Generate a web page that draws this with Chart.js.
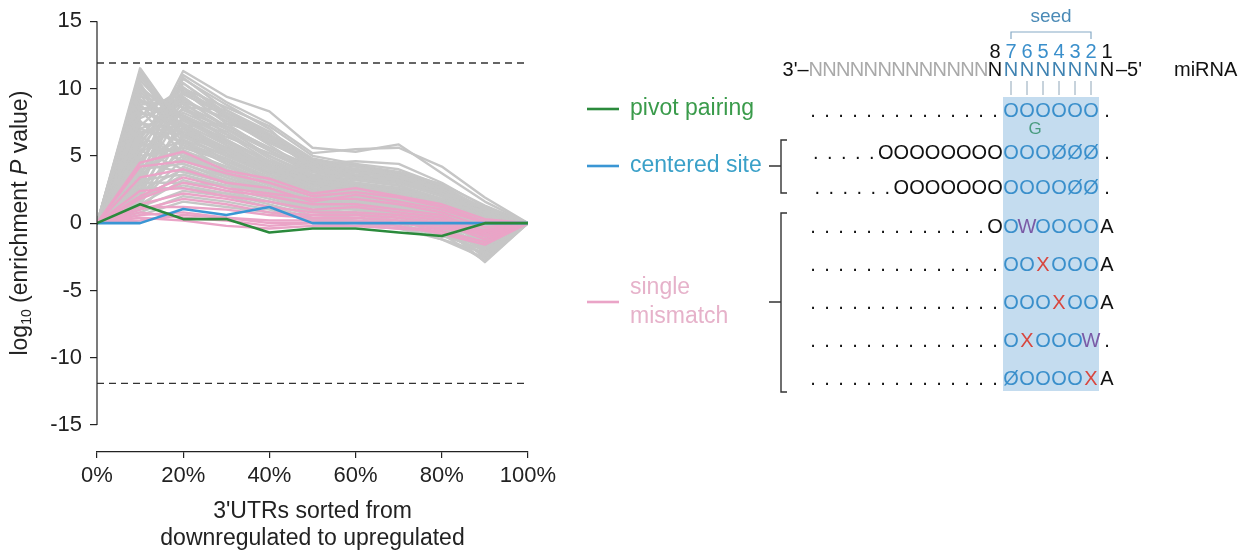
<!DOCTYPE html>
<html>
<head>
<meta charset="utf-8">
<title>Seed pairing enrichment</title>
<script src="https://cdn.jsdelivr.net/npm/chart.js@4/dist/chart.umd.min.js"></script>
<style>
  html, body { margin: 0; padding: 0; background: #fff; }
  #wrap { position: relative; width: 1247px; height: 554px; }
</style>
</head>
<body>
<div id="wrap"><canvas id="chart" width="1247" height="554"></canvas></div>
<script>
// ── Data ──────────────────────────────────────────────────────────────────────
const xPct = [0, 10, 20, 30, 40, 50, 60, 70, 80, 90, 100];
const xTicks = [0, 20, 40, 60, 80, 100];
const yTicks = [-15, -10, -5, 0, 5, 10, 15];
const threshold = 11.9;

const pivotPairing = [0, 1.4, 0.3, 0.3, -0.7, -0.4, -0.4, -0.7, -0.95, 0, 0];
const centeredSite = [0, 0, 1.05, 0.6, 1.2, 0, 0, 0, 0, 0, 0];

const singleMismatch = [
  [0, 4.5, 5.3, 3.9, 3.3, 2.2, 2.6, 2.0, 1.4, 0.3, 0],
  [0, 4.2, 4.6, 3.7, 3.0, 2.0, 2.3, 1.9, 1.2, 0.1, 0],
  [0, 3.4, 4.0, 3.0, 2.6, 1.6, 2.1, 1.6, 1.0, 0.0, 0],
  [0, 2.0, 3.4, 2.6, 2.2, 1.8, 1.8, 1.4, 0.8, -0.3, 0],
  [0, 1.8, 3.0, 2.4, 2.0, 1.4, 1.4, 1.0, 0.6, -0.6, 0],
  [0, 2.4, 2.6, 2.0, 1.6, 1.0, 1.2, 0.8, 0.4, -0.8, 0],
  [0, 1.4, 2.2, 1.8, 1.2, 0.8, 0.8, 0.6, 0.2, -1.0, 0],
  [0, 1.0, 1.8, 1.4, 0.8, 0.6, 0.6, 0.4, 0.0, -1.2, 0],
  [0, 0.6, 0.8, 0.4, 0.2, 0.2, 0.2, 0.0, -0.4, -0.8, 0],
  [0, 0.4, 0.2, -0.2, -0.4, -0.2, -0.2, -0.4, -0.6, -1.4, 0],
  [0, 0.8, 0.4, 0.2, -0.2, 0.0, 0.0, -0.2, -0.8, -1.6, 0],
  [0, 1.2, 1.2, 1.0, 0.6, 0.4, 0.4, 0.2, -0.2, -0.6, 0],
  [0, 0.2, 0.6, 0.4, 0.0, 0.0, -0.2, -0.4, -0.4, -0.5, 0],
];

// all other site types, drawn in grey behind the highlighted ones
const otherSites = [
  [0, 11.5, 7.0, 5.5, 4.0, 3.2, 2.8, 2.4, 1.5, 0.4, 0],
  [0, 11.2, 6.2, 5.0, 3.6, 2.6, 2.2, 2.0, 1.2, -0.2, 0],
  [0, 10.8, 7.6, 6.0, 4.6, 3.5, 3.0, 2.6, 1.6, 0.6, 0],
  [0, 10.4, 5.4, 4.2, 3.0, 2.0, 1.8, 1.5, 0.6, -0.8, 0],
  [0, 10.0, 8.0, 6.6, 5.0, 3.6, 3.4, 3.0, 2.0, 0.8, 0],
  [0, 9.6, 4.8, 3.8, 2.6, 1.6, 1.4, 1.0, 0.2, -1.2, 0],
  [0, 9.2, 6.8, 5.2, 3.8, 2.8, 2.4, 2.2, 1.0, -0.4, 0],
  [0, 8.8, 5.8, 4.6, 3.2, 2.2, 2.0, 1.8, 0.8, -0.6, 0],
  [0, 8.2, 7.4, 5.8, 4.2, 3.0, 2.6, 2.4, 1.4, 0.2, 0],
  [0, 7.6, 4.4, 3.4, 2.2, 1.2, 1.0, 0.6, -0.2, -1.6, 0],
  [0, 7.0, 6.0, 4.8, 3.4, 2.4, 2.2, 1.6, 0.8, -0.6, 0],
  [0, 6.4, 5.0, 4.0, 2.8, 1.8, 1.6, 1.2, 0.4, -1.0, 0],
  [0, 5.0, 11.3, 9.4, 8.3, 5.6, 5.3, 5.85, 3.7, 1.6, 0],
  [0, 4.2, 11.0, 9.0, 7.4, 5.2, 5.5, 5.6, 4.2, 1.9, 0],
  [0, 6.2, 10.7, 8.8, 7.0, 4.1, 3.3, 2.8, 1.8, 0.6, 0],
  [0, 3.4, 10.4, 8.2, 6.4, 4.0, 3.6, 3.2, 2.2, 0.8, 0],
  [0, 7.2, 10.1, 7.8, 5.8, 3.8, 3.4, 3.0, 2.0, 0.4, 0],
  [0, 2.8, 9.8, 7.4, 5.4, 3.6, 3.2, 2.8, 1.6, 0.2, 0],
  [0, 5.6, 9.4, 7.0, 5.0, 3.4, 3.0, 2.6, 1.8, 0.6, 0],
  [0, 4.6, 9.0, 6.6, 4.6, 3.2, 2.8, 2.4, 1.4, 0.0, 0],
  [0, 3.0, 8.6, 6.2, 4.4, 3.0, 2.6, 2.2, 1.2, -0.4, 0],
  [0, 6.6, 8.2, 6.8, 4.8, 3.3, 2.9, 2.5, 1.5, 0.1, 0],
  [0, 2.2, 7.8, 5.8, 4.0, 2.8, 2.4, 2.0, 1.0, -0.8, 0],
  [0, 5.2, 7.4, 5.4, 3.8, 2.6, 2.3, 1.9, 0.9, -0.3, 0],
  [0, 3.8, 7.0, 5.0, 3.6, 2.5, 2.1, 1.7, 0.7, -1.4, 0],
  [0, 1.8, 6.6, 4.6, 3.2, 2.2, 1.9, 1.5, 0.5, -1.8, 0],
  [0, 8.0, 10.0, 8.6, 7.2, 5.0, 4.4, 4.0, 2.8, 1.0, 0],
  [0, 6.0, 9.6, 8.0, 6.2, 4.6, 4.0, 3.6, 2.4, 0.8, 0],
  [0, 4.8, 6.2, 4.4, 3.0, 2.0, 1.8, 1.4, 0.4, -1.0, 0],
  [0, 3.6, 5.8, 4.0, 2.8, 1.8, 1.6, 1.2, 0.2, -2.2, 0],
  [0, 2.6, 5.4, 3.8, 2.6, 1.6, 1.4, 1.0, 0.0, -2.6, 0],
  [0, 5.8, 5.2, 3.6, 2.4, 1.4, 1.2, 0.8, -0.2, -2.9, 0],
  [0, 1.6, 4.8, 3.4, 2.4, 1.5, 1.3, 0.9, 0.0, -1.2, 0],
  [0, 4.0, 4.4, 3.2, 2.0, 1.2, 1.0, 0.6, -0.4, -2.0, 0],
  [0, 2.4, 4.0, 3.0, 2.0, 1.0, 0.8, 0.6, -0.6, -2.4, 0],
  [0, 3.2, 3.6, 2.6, 1.8, 1.0, 0.8, 0.4, -0.4, -1.6, 0],
  [0, 1.4, 3.2, 2.4, 1.6, 0.8, 0.6, 0.2, -0.8, -2.8, 0],
  [0, 2.0, 2.8, 2.2, 1.4, 0.6, 0.4, 0.0, -1.0, -1.4, 0],
  [0, 1.2, 2.4, 2.0, 1.2, 0.4, 0.2, -0.2, -1.2, -2.2, 0],
  [0, 0.8, 2.0, 1.6, 1.0, 0.2, 0.0, -0.4, -1.2, -2.6, 0],
  [0, 3.0, 3.0, 2.8, 2.2, 1.4, 1.2, 0.8, -0.2, -1.8, 0],
  [0, 4.4, 3.8, 3.0, 2.4, 1.6, 1.6, 1.2, 0.2, -1.0, 0],
  [0, 7.8, 9.2, 7.6, 6.0, 4.4, 4.6, 4.4, 3.0, 1.2, 0],
  [0, 9.0, 8.8, 7.2, 5.6, 4.0, 3.8, 3.4, 2.6, 0.9, 0],
  [0, 10.6, 7.2, 7.4, 6.6, 4.2, 3.6, 3.8, 2.9, 1.3, 0],
  [0, 8.6, 8.0, 6.4, 5.2, 3.8, 3.6, 3.2, 2.2, 0.6, 0],
  [0, 6.8, 6.6, 5.6, 4.4, 3.0, 2.8, 2.6, 1.6, 0.3, 0],
  [0, 5.4, 7.8, 6.0, 4.6, 3.4, 3.2, 2.8, 1.8, 0.5, 0],
  [0, 9.4, 8.6, 8.4, 6.8, 4.8, 4.2, 3.6, 2.6, 1.1, 0],
  [0, 8.4, 9.6, 8.0, 6.0, 4.5, 4.0, 3.4, 2.4, 0.9, 0],
  [0, 11.0, 6.6, 5.2, 3.8, 2.8, 2.4, 2.2, 1.2, 0.0, 0],
  [0, 10.2, 7.2, 5.6, 4.2, 3.0, 2.6, 2.3, 1.3, 0.2, 0],
  [0, 9.8, 6.0, 4.8, 3.4, 2.4, 2.0, 1.7, 0.8, -0.5, 0],
  [0, 9.0, 7.8, 6.2, 4.6, 3.2, 2.9, 2.6, 1.7, 0.4, 0],
  [0, 8.4, 5.2, 4.2, 3.0, 2.0, 1.8, 1.4, 0.5, -0.9, 0],
  [0, 7.4, 7.0, 5.6, 4.0, 2.9, 2.6, 2.2, 1.3, 0.0, 0],
  [0, 6.0, 4.6, 3.6, 2.6, 1.6, 1.4, 1.0, 0.1, -1.3, 0],
  [0, 5.4, 4.0, 3.2, 2.2, 1.3, 1.1, 0.7, -0.2, -1.7, 0],
  [0, 4.6, 8.6, 7.0, 5.4, 3.8, 3.4, 3.0, 2.0, 0.5, 0],
  [0, 3.6, 9.2, 7.2, 5.6, 4.2, 3.8, 3.3, 2.3, 0.7, 0],
  [0, 2.4, 10.0, 7.8, 6.0, 4.4, 4.0, 3.5, 2.5, 0.9, 0],
  [0, 4.0, 10.8, 8.4, 6.6, 4.6, 4.2, 3.7, 2.6, 1.0, 0],
  [0, 5.8, 10.4, 8.0, 6.4, 4.3, 3.9, 3.4, 2.4, 0.7, 0],
  [0, 2.0, 8.0, 6.0, 4.2, 3.0, 2.7, 2.3, 1.4, -0.2, 0],
  [0, 3.2, 7.2, 5.2, 3.6, 2.4, 2.1, 1.8, 0.8, -0.9, 0],
  [0, 1.4, 6.0, 4.4, 3.0, 2.0, 1.7, 1.3, 0.3, -1.5, 0],
  [0, 2.8, 5.0, 3.6, 2.6, 1.7, 1.5, 1.1, 0.1, -2.0, 0],
  [0, 1.0, 4.2, 3.0, 2.2, 1.3, 1.1, 0.7, -0.3, -2.4, 0],
  [0, 3.4, 6.4, 5.0, 3.8, 2.6, 2.4, 2.0, 1.0, -0.2, 0],
  [0, 7.0, 8.4, 7.0, 5.4, 3.9, 3.5, 3.1, 2.1, 0.6, 0],
  [0, 8.8, 9.0, 7.8, 6.2, 4.3, 4.0, 3.5, 2.5, 0.8, 0],
  [0, 6.4, 9.8, 8.2, 6.6, 4.7, 4.3, 3.8, 2.7, 1.0, 0],
  [0, 1.8, 3.6, 2.8, 2.0, 1.2, 1.0, 0.6, -0.4, -1.0, 0],
  [0, 2.6, 2.6, 2.2, 1.6, 0.9, 0.7, 0.4, -0.6, -1.8, 0],
  [0, 0.6, 1.6, 1.2, 0.8, 0.3, 0.1, -0.2, -0.9, -2.0, 0],
  [0, 5.0, 5.6, 4.6, 3.4, 2.3, 2.1, 1.8, 0.9, -0.5, 0],
  [0, 10.0, 6.4, 5.4, 4.0, 2.9, 2.5, 2.1, 1.1, -0.1, 0],
  [0, 11.3, 6.6, 5.6, 4.4, 3.1, 2.7, 2.3, 1.4, 0.3, 0],
];

// ── Styling ───────────────────────────────────────────────────────────────────
const FONT = "'Liberation Sans', Arial, Helvetica, sans-serif";
const COL = {
  pivot: '#2b8a3c',
  pivotText: '#3a9b4b',
  centered: '#3a96d4',
  centeredText: '#3aa0c8',
  mismatch: '#eaa4c7',
  mismatchText: '#e6b2ca',
  other: '#c6c6c6',
  axis: '#222',
  seedBox: '#c4dcef',
  seedO: '#3a8fcb',
  seedN: '#3f83b2',
  grayN: '#a9a9a9',
  red: '#d8473f',
  purple: '#7a5aa6',
  bulge: '#4a9c80',
};

Chart.defaults.font.family = FONT;
Chart.defaults.color = COL.axis;

const toPoints = ys => ys.map((y, i) => ({ x: xPct[i], y }));
const lineStyle = (color, width, order) => ({
  borderColor: color, borderWidth: width, pointRadius: 0, tension: 0,
  borderJoinStyle: 'round', borderCapStyle: 'round', fill: false, order,
});

const datasets = [
  { label: 'pivot pairing', data: toPoints(pivotPairing), ...lineStyle(COL.pivot, 2.6, 0) },
  { label: 'centered site', data: toPoints(centeredSite), ...lineStyle(COL.centered, 2.6, 1) },
  ...singleMismatch.map(s => ({ label: 'single mismatch', data: toPoints(s), ...lineStyle(COL.mismatch, 2.4, 2) })),
  ...otherSites.map(s => ({ label: 'other', data: toPoints(s), ...lineStyle(COL.other, 2.4, 3) })),
  ...[threshold, -threshold].map(t => ({
    label: 'threshold',
    data: [{ x: xPct[0], y: t }, { x: xPct[xPct.length - 1], y: t }],
    ...lineStyle('#333', 1.4, 4), borderDash: [7, 5], borderCapStyle: 'butt',
  })),
];

// ── Site diagram (legend + pairing schematic) ────────────────────────────────
// rows read left to right; the last character sits on miRNA position 1
const siteRows = [
  { y: 110, text: '..............OOOOOO.', color: 'kkkkkkkkkkkkkkbbbbbbk' },
  { y: 152, text: '.....OOOOOOOOOOOØØØ.', color: 'kkkkkkkkkkkkkbbbbbbk' },
  { y: 187, text: '......OOOOOOOOOOOØØ.', color: 'kkkkkkkkkkkkkbbbbbbk' },
  { y: 226, text: '.............OOWOOOOA', color: 'kkkkkkkkkkkkkkbpbbbbk' },
  { y: 264, text: '..............OOXOOOA', color: 'kkkkkkkkkkkkkkbbrbbbk' },
  { y: 302, text: '..............OOOXOOA', color: 'kkkkkkkkkkkkkkbbbrbbk' },
  { y: 340, text: '..............OXOOOW.', color: 'kkkkkkkkkkkkkkbrbbbpk' },
  { y: 378, text: '..............ØOOOOXA', color: 'kkkkkkkkkkkkkkbbbbbrk' },
];
const charColor = { k: '#111', b: COL.seedO, r: COL.red, p: COL.purple, g: COL.grayN, n: COL.seedN };

const POS1_X = 1107;   // centre of miRNA position 1
const SEED_PITCH = 16;

// x centre of every character in a row, walking leftwards from position 1
function rowXs(text) {
  const xs = new Array(text.length);
  let x = POS1_X;
  for (let i = text.length - 1, pos = 1; i >= 0; i--, pos++) {
    if (pos > 1) {
      const ch = text[i];
      const step = pos <= 8 ? SEED_PITCH : (ch === 'O' ? 15.6 : (ch === 'N' ? 13.8 : 14));
      x -= step;
    }
    xs[i] = x;
  }
  return xs;
}

function drawRow(ctx, text, colors, y) {
  const xs = rowXs(text);
  ctx.textAlign = 'center';
  ctx.textBaseline = 'alphabetic';
  for (let i = 0; i < text.length; i++) {
    ctx.fillStyle = charColor[colors[i]];
    ctx.fillText(text[i], xs[i], y + 7);
  }
  return xs;
}

function drawBracket(ctx, x, top, bottom, midY) {
  ctx.beginPath();
  ctx.moveTo(x + 6, top); ctx.lineTo(x, top); ctx.lineTo(x, bottom); ctx.lineTo(x + 6, bottom);
  ctx.moveTo(x, midY); ctx.lineTo(x - 12, midY);
  ctx.stroke();
}

const decorations = {
  id: 'decorations',
  afterDraw(chart) {
    const { ctx, chartArea, scales: { y } } = chart;
    ctx.save();

    // y axis line only spans the labelled range
    ctx.strokeStyle = COL.axis;
    ctx.lineWidth = 1.2;
    ctx.beginPath();
    ctx.moveTo(chartArea.left, y.getPixelForValue(yTicks[yTicks.length - 1]));
    ctx.lineTo(chartArea.left, y.getPixelForValue(yTicks[0]));
    ctx.stroke();

    // y title: log10 (enrichment P value), rotated
    const parts = [
      { t: 'log', f: `23px ${FONT}`, dy: 0 },
      { t: '10', f: `14px ${FONT}`, dy: 6 },
      { t: ' (enrichment ', f: `23px ${FONT}`, dy: 0 },
      { t: 'P', f: `italic 23px ${FONT}`, dy: 0 },
      { t: ' value)', f: `23px ${FONT}`, dy: 0 },
    ];
    let total = 0;
    parts.forEach(p => { ctx.font = p.f; p.w = ctx.measureText(p.t).width; total += p.w; });
    ctx.translate(21, y.getPixelForValue(0));
    ctx.rotate(-Math.PI / 2);
    ctx.fillStyle = COL.axis;
    ctx.textBaseline = 'middle';
    ctx.textAlign = 'left';
    let px = -total / 2;
    parts.forEach(p => { ctx.font = p.f; ctx.fillText(p.t, px, p.dy); px += p.w; });
    ctx.setTransform(1, 0, 0, 1, 0, 0);

    // legend
    ctx.font = `23px ${FONT}`;
    ctx.textAlign = 'left';
    ctx.textBaseline = 'middle';
    const legend = [
      { y: 109, color: COL.pivot, text: ['pivot pairing'], tc: COL.pivotText },
      { y: 166, color: COL.centered, text: ['centered site'], tc: COL.centeredText },
      { y: 302, color: COL.mismatch, text: ['single', 'mismatch'], tc: COL.mismatchText },
    ];
    legend.forEach(l => {
      ctx.strokeStyle = l.color;
      ctx.lineWidth = 2.6;
      ctx.beginPath(); ctx.moveTo(587, l.y); ctx.lineTo(619, l.y); ctx.stroke();
      ctx.fillStyle = l.tc;
      const y0 = l.y - (l.text.length - 1) * 14.5;
      l.text.forEach((t, i) => ctx.fillText(t, 630, y0 + i * 29));
    });

    // seed shading over positions 2-7
    const x7 = POS1_X - 6 * SEED_PITCH, x2 = POS1_X - SEED_PITCH;
    ctx.fillStyle = COL.seedBox;
    ctx.fillRect(x7 - 8, 97, (x2 - x7) + 16, 294);

    // seed label and bracket
    ctx.font = `19px ${FONT}`;
    ctx.textAlign = 'center';
    ctx.fillStyle = '#4a8ab6';
    ctx.fillText('seed', (x7 + x2) / 2, 17);
    ctx.strokeStyle = '#86aac6';
    ctx.lineWidth = 1.2;
    ctx.beginPath();
    ctx.moveTo(x7, 39); ctx.lineTo(x7, 32); ctx.lineTo(x2, 32); ctx.lineTo(x2, 39);
    ctx.stroke();

    ctx.font = `20px ${FONT}`;
    // position numbers
    drawRow(ctx, '87654321', 'kbbbbbbk', 51);
    // miRNA strand
    const mir = 'NNNNNNNNNNNNN' + 'N' + 'NNNNNN' + 'N';
    const mirXs = drawRow(ctx, mir, 'ggggggggggggg' + 'k' + 'nnnnnn' + 'k', 69);
    ctx.fillStyle = '#111';
    ctx.textAlign = 'right';
    ctx.fillText("3'\u2013", mirXs[0] - 7, 76);
    ctx.textAlign = 'left';
    ctx.fillText("\u20135'", POS1_X + 9, 76);
    ctx.fillText('miRNA', 1174, 76);

    // pairing ticks under the seed
    ctx.strokeStyle = '#8fa6b8';
    ctx.lineWidth = 1;
    for (let k = 2; k <= 7; k++) {
      const x = POS1_X - (k - 1) * SEED_PITCH;
      ctx.beginPath(); ctx.moveTo(x, 81); ctx.lineTo(x, 95); ctx.stroke();
    }

    // site rows
    siteRows.forEach(r => drawRow(ctx, r.text, r.color, r.y));
    // bulged G of the pivot site
    ctx.fillStyle = COL.bulge;
    ctx.font = `17px ${FONT}`;
    ctx.textAlign = 'center';
    ctx.fillText('G', POS1_X - 4.5 * SEED_PITCH, 134);

    // brackets grouping the rows
    ctx.strokeStyle = '#333';
    ctx.lineWidth = 1.4;
    drawBracket(ctx, 781, 140, 193, 166);
    drawBracket(ctx, 781, 213, 392, 302);

    ctx.restore();
  },
};

// ── Chart ─────────────────────────────────────────────────────────────────────
new Chart(document.getElementById('chart'), {
  type: 'line',
  data: { datasets },
  options: {
    responsive: false,
    animation: false,
    devicePixelRatio: 1,
    layout: { padding: { left: 0, top: 18, right: 719, bottom: 0 } },
    plugins: { legend: { display: false }, tooltip: { enabled: false } },
    scales: {
      x: {
        type: 'linear', min: 0, max: 100,
        afterBuildTicks: s => { s.ticks = xTicks.map(v => ({ value: v })); },
        afterFit: s => { s.height = 102; },
        ticks: { callback: v => v + '%', font: { size: 22 }, color: COL.axis, padding: 5, maxRotation: 0, autoSkip: false },
        grid: { drawOnChartArea: false, drawTicks: true, tickLength: 6, color: COL.axis, lineWidth: 1.2 },
        border: { display: true, color: COL.axis, width: 1.2 },
        title: {
          display: true,
          text: ["3'UTRs sorted from", 'downregulated to upregulated'],
          font: { size: 23, lineHeight: 1.17 },
          color: COL.axis,
          padding: { top: 0, bottom: 2 },
        },
      },
      y: {
        type: 'linear', min: -17, max: 15,
        afterBuildTicks: s => { s.ticks = yTicks.map(v => ({ value: v })); },
        afterFit: s => { s.width = 97; },
        ticks: { font: { size: 22 }, color: COL.axis, padding: 8 },
        grid: { drawOnChartArea: false, drawTicks: true, tickLength: 7, color: COL.axis, lineWidth: 1.2 },
        border: { display: false },
      },
    },
  },
  plugins: [decorations],
});
</script>
</body>
</html>
